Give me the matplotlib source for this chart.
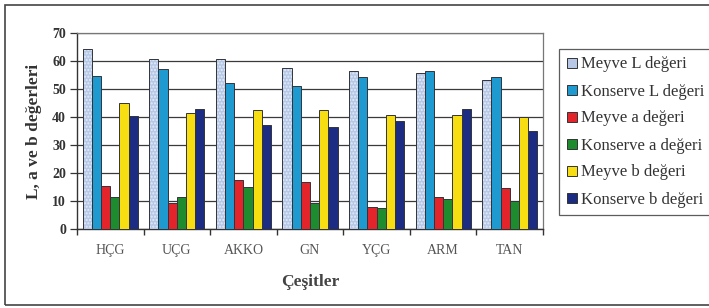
import numpy as np
import matplotlib.pyplot as plt
from matplotlib.patches import Rectangle
from matplotlib.lines import Line2D

plt.rcParams['font.family'] = ['Liberation Serif', 'DejaVu Serif']

cesitler = ['HÇG', 'UÇG', 'AKKO', 'GN', 'YÇG', 'ARM', 'TAN']

meyve_L = [64.4, 60.6, 60.6, 57.5, 56.5, 55.6, 53.2]
konserve_L = [54.6, 57.1, 52.0, 51.1, 54.4, 56.5, 54.4]
meyve_a = [15.4, 9.2, 17.5, 16.7, 8.0, 11.5, 14.5]
konserve_a = [11.3, 11.3, 15.1, 9.2, 7.4, 10.6, 10.0]
meyve_b = [44.9, 41.3, 42.5, 42.5, 40.7, 40.7, 40.1]
konserve_b = [40.5, 43.0, 37.1, 36.3, 38.7, 42.9, 35.1]

seriler = [
    ('Meyve L değeri', meyve_L, '#B7C8E6'),
    ('Konserve L değeri', konserve_L, '#1F9AD0'),
    ('Meyve a değeri', meyve_a, '#E3242B'),
    ('Konserve a değeri', konserve_a, '#1E8C2E'),
    ('Meyve b değeri', meyve_b, '#F6DE12'),
    ('Konserve b değeri', konserve_b, '#1B2C82'),
]

fig = plt.figure(figsize=(7.09, 3.08), dpi=100)
ax = fig.add_axes([77/709, 1-229/308, (543-77)/709, (229-33)/308])

x = np.arange(len(cesitler))
w = 0.138
for k, (ad, vals, renk) in enumerate(seriler):
    pos = x + (k - 2.5) * w
    if k == 0:
        # speckled fill like the scanned original
        ax.bar(pos, vals, w, color=renk, edgecolor='#E4ECF8', linewidth=0,
               hatch='.....', zorder=3)
        ax.bar(pos, vals, w, fill=False, edgecolor='#33343a', linewidth=0.7, zorder=4)
    else:
        ax.bar(pos, vals, w, color=renk, edgecolor='#33343a', linewidth=0.7, zorder=3)

ax.set_xlim(-0.5, len(cesitler) - 0.5)
ax.set_ylim(0, 70)
ax.set_yticks(np.arange(0, 71, 10))
ax.yaxis.grid(True, color='#3a3a3a', linewidth=0.9, zorder=0)
ax.set_axisbelow(True)

ax.set_xticks(x)
ax.set_xticklabels(cesitler, fontsize=10, color='#555555')
ax.set_xticks(np.arange(-0.5, len(cesitler)), minor=True)
ax.tick_params(axis='x', which='major', length=0, pad=11)
ax.tick_params(axis='x', which='minor', length=4, width=1, color='#333333')
ax.tick_params(axis='y', length=5, width=0.9, color='#333333', labelsize=10,
               labelcolor='#333333', pad=3)
for lab in ax.get_yticklabels():
    lab.set_fontweight('bold')

for s in ['top', 'right']:
    ax.spines[s].set_color('#777777')
    ax.spines[s].set_linewidth(0.9)
for s in ['left', 'bottom']:
    ax.spines[s].set_color('#333333')
    ax.spines[s].set_linewidth(1.0)

ax.set_ylabel('L, a ve b değerleri', fontsize=12.5, fontweight='bold', color='#333333', labelpad=7)
ax.set_xlabel('Çeşitler', fontsize=12.5, fontweight='bold', color='#444444', labelpad=12)

handles = [Line2D([], [], marker='s', linestyle='none', markersize=7.5,
                  markerfacecolor=renk, markeredgecolor='#333333', markeredgewidth=0.7)
           for _, _, renk in seriler]
leg = fig.legend(handles, [s[0] for s in seriler], loc='upper left',
                 bbox_to_anchor=(559/709, 1-49/308),
                 prop={'family': 'Liberation Serif', 'size': 12},
                 frameon=True, fancybox=False, edgecolor='#333333',
                 handlelength=0.7, handletextpad=0.15, labelspacing=0.66,
                 borderpad=0.45, borderaxespad=0)
leg.get_frame().set_linewidth(0.9)
for t in leg.get_texts():
    t.set_color('#333333')

# outer frame of the chart
fig.patches.append(Rectangle((5/709, 3/308), 1.0, 1-8/308, transform=fig.transFigure,
                             fill=False, edgecolor='#444444', linewidth=1.2))

fig.savefig('out.png', dpi=100)
